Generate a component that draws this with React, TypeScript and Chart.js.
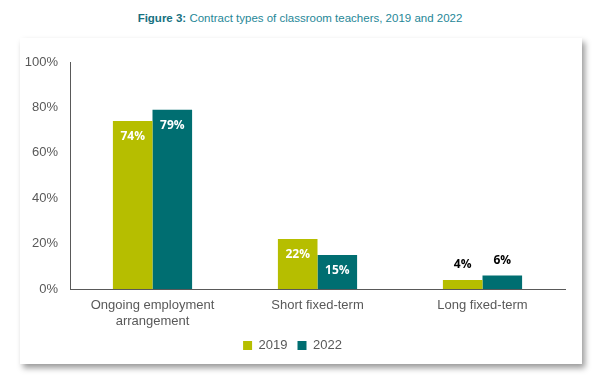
import React, { useEffect, useRef } from "react";
import { Chart, registerables } from "chart.js";

Chart.register(...registerables);

const categories: (string | string[])[] = [
  ["Ongoing employment", "arrangement"],
  "Short fixed-term",
  "Long fixed-term",
];
const seriesNames = ["2019", "2022"];
const values2019 = [74, 22, 4];
const values2022 = [79, 15, 6];
const yTickMax = 100;
const yTickStep = 20;

const colors = ["#B6BE00", "#006E71"];
const axisColor = "#595959";
const textFont = "'Liberation Sans', Arial, sans-serif";

const valueLabels = {
  id: "valueLabels",
  afterDatasetsDraw(chart: any) {
    const ctx = chart.ctx;
    ctx.save();
    ctx.font = "bold 12px 'Open Sans', sans-serif";
    ctx.textAlign = "center";
    ctx.textBaseline = "middle";
    chart.data.datasets.forEach((ds: any, di: number) => {
      const meta = chart.getDatasetMeta(di);
      meta.data.forEach((bar: any, i: number) => {
        const v = ds.data[i] as number;
        const inside = v >= 10;
        ctx.fillStyle = inside ? "#FFFFFF" : "#000000";
        ctx.fillText(v + "%", bar.x, inside ? bar.y + 16 : bar.y - 15);
      });
    });
    ctx.restore();
  },
};

export default function App() {
  const ref = useRef<HTMLCanvasElement | null>(null);

  useEffect(() => {
    if (!ref.current) return;
    const chart = new Chart(ref.current, {
      type: "bar",
      data: {
        labels: categories,
        datasets: [
          {
            label: seriesNames[0],
            data: values2019,
            backgroundColor: colors[0],
            categoryPercentage: 0.48,
            barPercentage: 1.0,
          },
          {
            label: seriesNames[1],
            data: values2022,
            backgroundColor: colors[1],
            categoryPercentage: 0.48,
            barPercentage: 1.0,
          },
        ],
      },
      options: {
        animation: false,
        responsive: false,
        maintainAspectRatio: false,
        devicePixelRatio: 1,
        layout: { padding: { top: 24, right: 17, left: 0, bottom: 0 } },
        plugins: {
          tooltip: { enabled: false },
          legend: {
            position: "bottom",
            labels: {
              boxWidth: 9,
              boxHeight: 9,
              padding: 10,
              color: axisColor,
              font: { size: 13, family: textFont },
            },
          },
        },
        scales: {
          x: {
            grid: { display: false, drawTicks: false },
            border: { display: true, color: axisColor, width: 1 },
            ticks: {
              color: axisColor,
              font: { size: 13, family: textFont, lineHeight: 1.2 },
              padding: 9,
              maxRotation: 0,
            },
            afterFit: (s: any) => {
              s.height = 40;
            },
          },
          y: {
            min: 0,
            max: yTickMax,
            grid: { display: false, drawTicks: false },
            border: { display: true, color: axisColor, width: 1 },
            ticks: {
              stepSize: yTickStep,
              color: axisColor,
              font: { size: 13, family: textFont },
              padding: 12,
              callback: (v: any) => v + "%",
            },
            afterFit: (s: any) => {
              s.width = 50;
            },
          },
        },
      },
      plugins: [valueLabels],
    });
    return () => chart.destroy();
  }, []);

  return (
    <div
      style={{
        position: "fixed",
        left: 0,
        top: 0,
        width: 600,
        height: 390,
        background: "#FFFFFF",
        overflow: "hidden",
      }}
    >
      <div
        style={{
          position: "absolute",
          left: 0,
          top: 10,
          width: 600,
          textAlign: "center",
          fontFamily: textFont,
          fontSize: 11.5,
          color: "#1F8797",
          lineHeight: "16px",
        }}
      >
        <span style={{ fontWeight: "bold", color: "#17717F" }}>Figure 3:</span> Contract types of classroom
        teachers, 2019 and 2022
      </div>
      <div
        style={{
          position: "absolute",
          left: 20,
          top: 38,
          width: 562,
          height: 326,
          background: "#FFFFFF",
          boxShadow: "3px 4px 6px rgba(0,0,0,0.4)",
        }}
      >
        <canvas ref={ref} width={562} height={324} style={{ display: "block" }} />
      </div>
    </div>
  );
}
